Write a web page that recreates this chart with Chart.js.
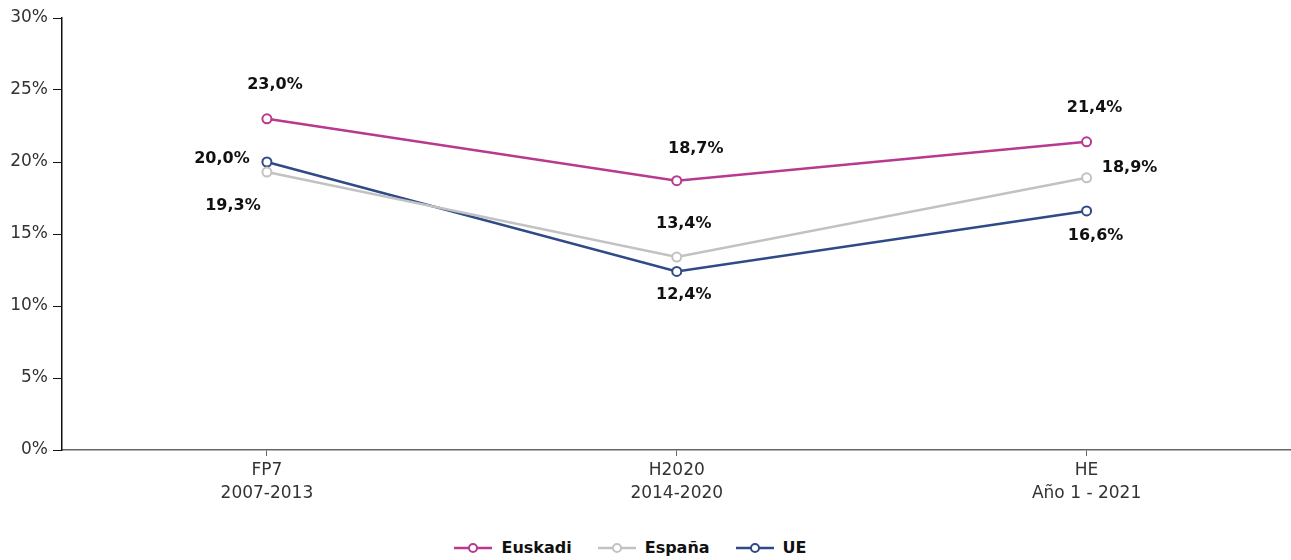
<!DOCTYPE html>
<html>
<head>
<meta charset="utf-8">
<script src="https://cdn.jsdelivr.net/npm/chart.js@4"></script>
<style>
  body { margin: 0; background: #fff; font-family: "DejaVu Sans", sans-serif; overflow: hidden; }
  .wrap { position: relative; width: 1298px; height: 520px; }
  #legend { width: 1291px; display: flex; justify-content: center; gap: 26px; margin-top: 18px; padding-right: 30px; box-sizing: border-box; font-weight: 700; font-size: 16px; color: #111; }
  #legend .item { display: flex; align-items: center; gap: 9px; }
</style>
</head>
<body>
<div class="wrap"><canvas id="chart"></canvas></div>
<div id="legend"></div>
<script>
// data
const categories = [['FP7', '2007-2013'], ['H2020', '2014-2020'], ['HE', 'Año 1 - 2021']];
const seriesNames = ['Euskadi', 'España', 'UE'];
const euskadi = [23.0, 18.7, 21.4];
const espana = [19.3, 13.4, 18.9];
const ue = [20.0, 12.4, 16.6];
const yTicks = [0, 5, 10, 15, 20, 25, 30];

const colors = ['#b8398f', '#c2c2c2', '#2f4a86'];
// label offsets from each point (dx, dy)
const labelOffsets = [
    [[8, -34], [19, -32], [8, -34]],
    [[-34, 34], [7, -33], [43, -10]],
    [[-45, -3], [7, 23], [9, 25]]
];

const fmt = v => v.toFixed(1).replace('.', ',') + '%';

const valueLabels = {
    id: 'valueLabels',
    afterDatasetsDraw(chart) {
        const ctx = chart.ctx;
        ctx.save();
        ctx.font = 'bold 16px "DejaVu Sans", sans-serif';
        ctx.fillStyle = '#111';
        ctx.textAlign = 'center';
        ctx.textBaseline = 'middle';
        chart.data.datasets.forEach((ds, i) => {
            chart.getDatasetMeta(i).data.forEach((pt, j) => {
                const off = labelOffsets[i][j];
                ctx.fillText(fmt(ds.data[j]), pt.x + off[0], pt.y + off[1]);
            });
        });
        ctx.restore();
    }
};

const makeSet = (label, data, color) => ({
    label: label,
    data: data,
    borderColor: color,
    backgroundColor: '#fff',
    borderWidth: 2.5,
    pointRadius: 4.5,
    pointBorderWidth: 2,
    pointBackgroundColor: '#fff',
    pointBorderColor: color,
    tension: 0
});

const ctx = document.getElementById('chart').getContext('2d');
new Chart(ctx, {
    type: 'line',
    data: {
        labels: categories,
        datasets: [
            makeSet(seriesNames[0], euskadi, colors[0]),
            makeSet(seriesNames[1], espana, colors[1]),
            makeSet(seriesNames[2], ue, colors[2])
        ]
    },
    options: {
        responsive: true,
        maintainAspectRatio: false,
        animation: false,
        layout: { padding: { top: 18, right: 0, left: 0, bottom: 0 } },
        plugins: { legend: { display: false }, tooltip: { enabled: false } },
        scales: {
            x: {
                offset: true,
                border: { color: '#666', width: 1.5 },
                grid: { drawOnChartArea: false, drawTicks: true, tickLength: 6, color: '#666', offset: false },
                ticks: { color: '#333', font: { size: 17, family: '"DejaVu Sans", sans-serif', lineHeight: 1.3 }, padding: 4, maxRotation: 0 },
                afterFit(scale) { scale.height = 70; }
            },
            y: {
                min: 0,
                max: 30,
                afterBuildTicks(scale) { scale.ticks = yTicks.map(v => ({ value: v })); },
                border: { color: '#111', width: 1.5 },
                grid: { drawOnChartArea: false, drawTicks: true, tickLength: 9, color: '#111' },
                ticks: { color: '#333', font: { size: 17, family: '"DejaVu Sans", sans-serif' }, padding: 5, callback: v => v + '%' },
                afterFit(scale) { scale.width = 62; }
            }
        }
    },
    plugins: [valueLabels]
});

// html legend
const legend = document.getElementById('legend');
seriesNames.forEach((name, i) => {
    const item = document.createElement('div');
    item.className = 'item';
    item.innerHTML = `<svg width="38" height="12"><line x1="0" y1="6" x2="38" y2="6" stroke="${colors[i]}" stroke-width="2.5"/><circle cx="19" cy="6" r="4" fill="#fff" stroke="${colors[i]}" stroke-width="2"/></svg><span>${name}</span>`;
    legend.appendChild(item);
});
</script>
</body>
</html>
